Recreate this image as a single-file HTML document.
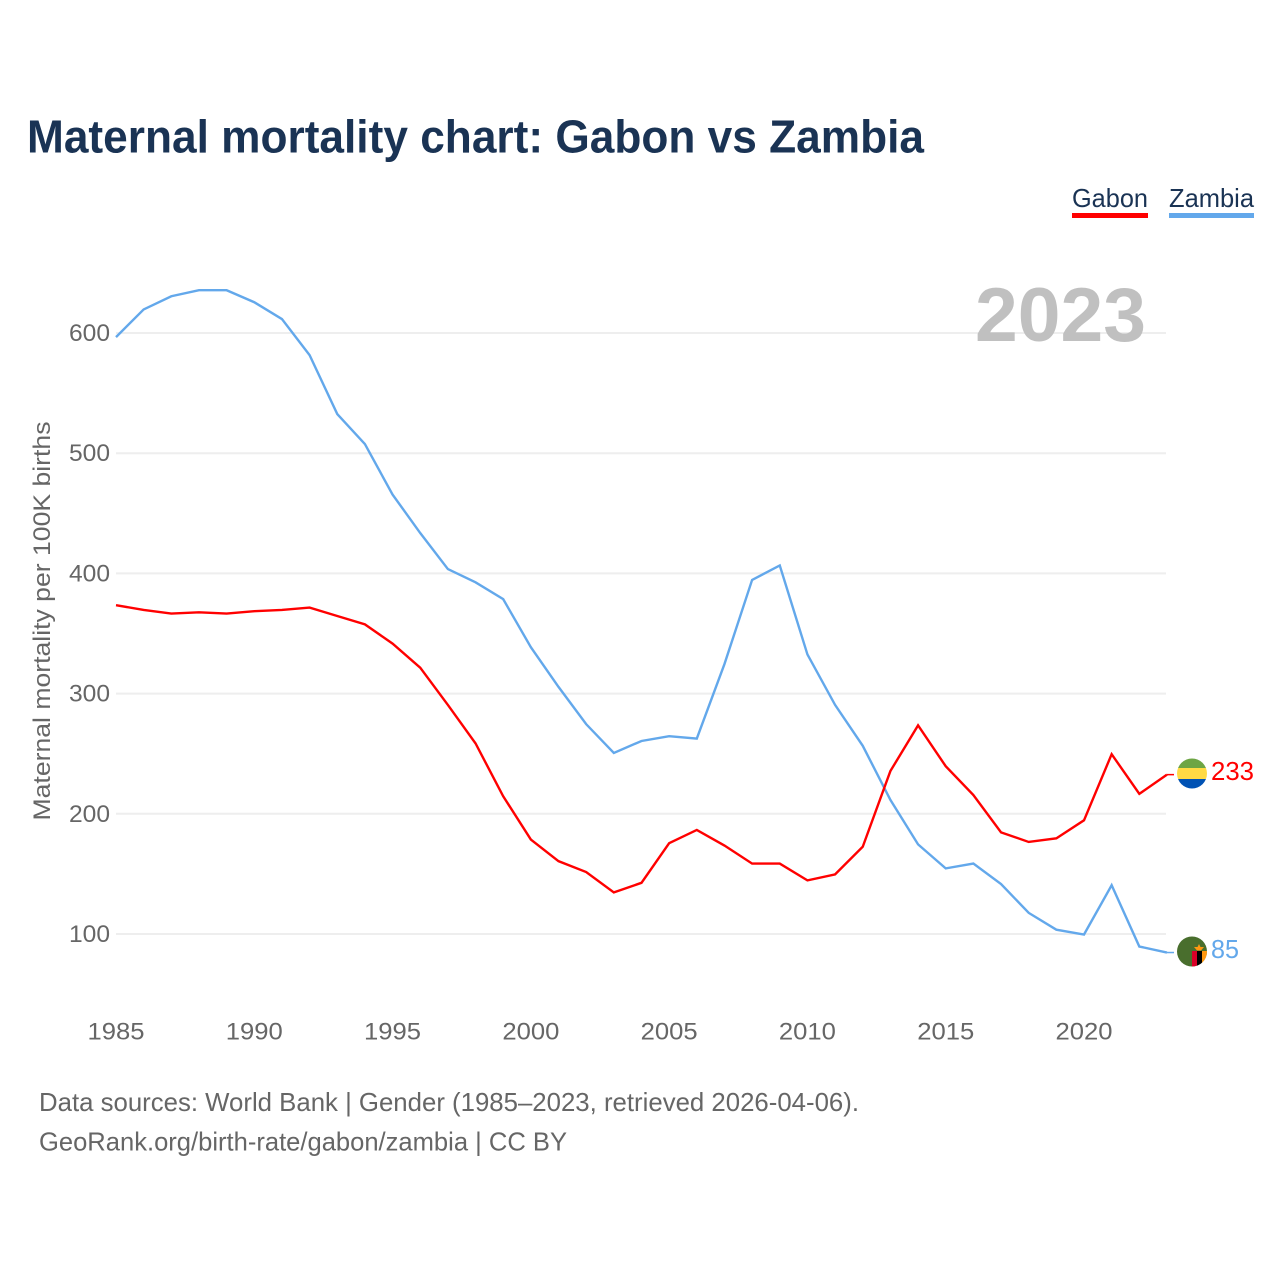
<!DOCTYPE html>
<html>
<head>
<meta charset="utf-8">
<title>Maternal mortality chart: Gabon vs Zambia</title>
<style>
html,body{margin:0;padding:0;background:#fff;width:1280px;height:1280px;overflow:hidden}
svg{display:block}
text{font-family:"Liberation Sans",sans-serif}
</style>
</head>
<body>
<svg id="chart" xmlns="http://www.w3.org/2000/svg" width="1280" height="1280" viewBox="0 0 1280 1280">
  <defs>
    <clipPath id="clip-gabon"><circle cx="1192" cy="773.5" r="15"/></clipPath>
    <clipPath id="clip-zambia"><circle cx="1192" cy="951.5" r="15"/></clipPath>
  </defs>
  <text x="27" y="152.5" font-size="46" font-weight="700" fill="#1a3354" textLength="897" lengthAdjust="spacingAndGlyphs">Maternal mortality chart: Gabon vs Zambia</text>

  <g>
    <g>
      <text x="1072" y="207" font-size="26" fill="#1a3354" textLength="76" lengthAdjust="spacingAndGlyphs">Gabon</text>
      <rect x="1072" y="213" width="76" height="5" fill="#ff0000"/>
    </g>
    <g>
      <text x="1169" y="207" font-size="26" fill="#1a3354" textLength="85" lengthAdjust="spacingAndGlyphs">Zambia</text>
      <rect x="1169" y="213" width="85" height="5" fill="#63a8eb"/>
    </g>
  </g>

  <g id="grid"></g>
  <text x="975" y="341" font-size="76" font-weight="700" fill="#c0c0c0" textLength="171" lengthAdjust="spacingAndGlyphs">2023</text>
  <g id="y-ticks"></g>
  <g id="x-ticks"></g>
  <text transform="translate(50,820.5) rotate(-90)" x="0" y="0" font-size="24" fill="#666666" textLength="399" lengthAdjust="spacingAndGlyphs">Maternal mortality per 100K births</text>
  <g id="series"></g>

  <g clip-path="url(#clip-gabon)">
    <rect x="1177" y="758" width="30" height="10" fill="#6da544"/>
    <rect x="1177" y="768" width="30" height="11" fill="#ffda44"/>
    <rect x="1177" y="779" width="30" height="10" fill="#0052b4"/>
  </g>
  <g clip-path="url(#clip-zambia)">
    <rect x="1177" y="936" width="30" height="31" fill="#496e2d"/>
    <rect x="1192" y="951" width="5" height="16" fill="#d80027"/>
    <rect x="1197" y="951" width="5" height="16" fill="#000000"/>
    <rect x="1202" y="951" width="5" height="16" fill="#ff9811"/>
    <polygon points="1194,947 1197.5,947 1199,944 1200.500,947 1204,947 1201,950.500 1197,950.500" fill="#ff9811"/>
  </g>
  <text x="1211" y="780" font-size="26" fill="#ff0000" textLength="43" lengthAdjust="spacingAndGlyphs">233</text>
  <text x="1211" y="958" font-size="26" fill="#63a8eb" textLength="28" lengthAdjust="spacingAndGlyphs">85</text>

  <text x="39" y="1111" font-size="26" fill="#666666" textLength="820" lengthAdjust="spacingAndGlyphs">Data sources: World Bank | Gender (1985–2023, retrieved 2026-04-06).</text>
  <text x="39" y="1150.5" font-size="26" fill="#666666" textLength="528" lengthAdjust="spacingAndGlyphs">GeoRank.org/birth-rate/gabon/zambia | CC BY</text>
</svg>
<script>
const years = [1985,1986,1987,1988,1989,1990,1991,1992,1993,1994,1995,1996,1997,1998,1999,2000,2001,2002,2003,2004,2005,2006,2007,2008,2009,2010,2011,2012,2013,2014,2015,2016,2017,2018,2019,2020,2021,2022,2023];
const gabonValues = [374,370,367,368,367,369,370,372,365,358,342,322,291,259,215,179,161,152,135,143,176,187,174,159,159,145,150,173,236,274,240,216,185,177,180,195,250,217,233];
const zambiaValues = [597,620,631,636,636,626,612,582,533,508,466,434,404,393,379,339,306,275,251,261,265,263,325,395,407,333,291,257,212,175,155,159,142,118,104,100,141,90,85];
const xTickLabels = [1985,1990,1995,2000,2005,2010,2015,2020];
const yTickLabels = [100,200,300,400,500,600];

const SVG_NS = 'http://www.w3.org/2000/svg';
function xScale(year){ return 116 + (year - 1985) * (1084 - 116) / 35; }
function yScale(value){ return 934.5 - (value - 100) * (934 - 333) / 500; }
function make(tag, attrs, text){
  const el = document.createElementNS(SVG_NS, tag);
  for (const k in attrs) el.setAttribute(k, attrs[k]);
  if (text !== undefined) el.textContent = text;
  return el;
}

const grid = document.getElementById('grid');
const yTicks = document.getElementById('y-ticks');
const xTicks = document.getElementById('x-ticks');
const seriesGroup = document.getElementById('series');

yTickLabels.forEach(function(v){
  const line = make('line', {x1:116, x2:1166, y1:yScale(v) - 0.5, y2:yScale(v) - 0.5, stroke:'#eeeeee', 'stroke-width':2});
  
  
  grid.appendChild(line);
  const label = make('text', {x:110, y:yScale(v) + 7.5, 'text-anchor':'end', 'font-size':24, fill:'#666666', textLength:41, lengthAdjust:'spacingAndGlyphs'}, String(v));
  
  
  yTicks.appendChild(label);
});

xTickLabels.forEach(function(y){
  const label = make('text', {x:xScale(y), y:1039.5, 'text-anchor':'middle', 'font-size':24, fill:'#666666', textLength:57, lengthAdjust:'spacingAndGlyphs'}, String(y));
  
  
  xTicks.appendChild(label);
});

function drawSeries(name, values, color){
  const pts = values.map(function(v, i){ return xScale(years[i]).toFixed(2) + ',' + yScale(v).toFixed(2); }).join(' ');
  const line = make('polyline', {points:pts, fill:'none', stroke:color, 'stroke-width':2.4, 'stroke-linejoin':'miter'});
  
  
  seriesGroup.appendChild(line);
  const last = values[values.length - 1];
  const lastYear = years[years.length - 1];
  const connector = make('line', {x1:xScale(lastYear), x2:1174, y1:yScale(last), y2:yScale(last), stroke:color, 'stroke-width':1.5});
  
  
  seriesGroup.appendChild(connector);
}
drawSeries('zambia', zambiaValues, '#63a8eb');
drawSeries('gabon', gabonValues, '#ff0000');
</script>
</body>
</html>
